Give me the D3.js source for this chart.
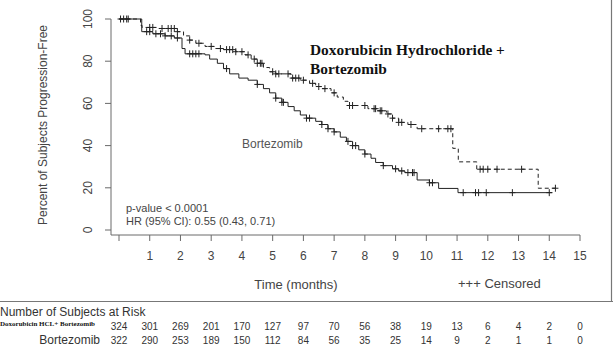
<!DOCTYPE html>
<html>
<head>
<meta charset="utf-8">
<script src="https://cdn.jsdelivr.net/npm/d3@7/dist/d3.min.js"></script>
<style>
	body { margin: 0; background: #fff; }
	svg { display: block; font-family: "Liberation Sans", Arial, sans-serif; }
</style>
</head>
<body>
<svg id="chart" width="613" height="352"></svg>
<script>
// --- data ---
var monthTicks = [0, 1, 2, 3, 4, 5, 6, 7, 8, 9, 10, 11, 12, 13, 14, 15];
var pctTicks = [0, 20, 40, 60, 80, 100];

// Doxorubicin HCL + Bortezomib: [time, % progression-free after step]
var doxSteps = [
	[0, 100], [0.70, 97], [0.75, 96], [1.3, 95.5], [1.9, 94], [2.1, 92], [2.3, 90], [2.5, 88.5],
	[2.8, 87], [3.1, 86], [3.4, 85.5], [3.8, 84.5], [4.1, 83], [4.3, 81], [4.5, 79], [4.7, 77],
	[4.9, 75], [5.1, 74], [5.6, 72], [5.9, 71], [6.2, 69.5], [6.4, 68], [6.6, 67], [6.9, 65],
	[7.1, 63], [7.3, 61], [7.45, 59], [8.1, 57.5], [8.4, 56.5], [8.7, 55], [8.9, 53], [9.1, 51],
	[9.4, 50], [9.7, 48], [10.86, 38.7], [11.04, 32.3], [11.64, 28.8], [13.64, 19.8]
];
var doxEnd = 14.25;
var doxCensored = [0.15, 0.3, 1.0, 1.1, 1.4, 1.6, 1.7, 1.8, 1.9, 2.3, 2.6, 3.0, 3.3, 3.5, 3.6, 3.7,
	3.8, 4.0, 4.2, 4.4, 4.5, 4.6, 4.65, 5.0, 5.1, 5.2, 5.5, 5.65, 5.75, 5.85, 6.0, 6.3, 6.5, 6.7,
	7.0, 7.5, 7.6, 8.0, 8.3, 8.35, 8.5, 8.55, 8.75, 8.9, 9.1, 9.2, 9.5, 9.85, 10.4, 10.7, 10.8,
	11.75, 11.85, 12.0, 12.3, 13.1, 14.2];

// Bortezomib
var bortSteps = [
	[0, 100], [0.74, 94], [1.1, 93], [1.5, 92], [1.8, 91], [2.05, 86], [2.15, 83.5], [2.8, 83],
	[2.95, 81], [3.2, 79], [3.4, 76.5], [3.6, 74], [3.9, 72], [4.2, 71], [4.5, 69], [4.7, 67],
	[4.9, 65], [5.1, 62.5], [5.3, 60.5], [5.5, 58.5], [5.7, 56.5], [5.9, 54.5], [6.1, 53],
	[6.4, 51.5], [6.6, 50], [6.8, 48], [7.0, 46.5], [7.2, 44], [7.4, 42], [7.6, 40], [7.8, 38],
	[8.0, 36], [8.2, 34], [8.35, 32], [8.6, 30.5], [8.9, 29], [9.1, 28], [9.3, 27.2], [9.7, 23.7],
	[10.1, 22.4], [10.4, 19.7], [11.03, 17.7]
];
var bortEnd = 14.1;
var bortCensored = [0.05, 0.25, 0.9, 1.0, 1.2, 1.35, 1.5, 1.7, 1.9, 2.3, 2.4, 2.5, 2.6, 3.5, 4.5,
	5.1, 5.3, 5.35, 6.1, 6.2, 6.6, 6.8, 7.0, 7.45, 7.6, 7.7, 8.0, 8.6, 9.0, 9.2, 9.4, 9.55, 9.6,
	10.1, 10.2, 11.2, 11.6, 11.7, 11.95, 12.8, 14.0];

// subjects at risk at months 0..15
var riskDox = [324, 301, 269, 201, 170, 127, 97, 70, 56, 38, 19, 13, 6, 4, 2, 0];
var riskBort = [322, 290, 253, 189, 150, 112, 84, 56, 35, 25, 14, 9, 2, 1, 1, 0];

(function() {
	var svg = d3.select('#chart');
	var axisColor = '#6a6a6a';
	var textColor = '#444';

	var x = d3.scaleLinear().domain([0, 15]).range([119, 580]);
	var y = d3.scaleLinear().domain([0, 100]).range([230, 19]);

	// outer frame bits: right border and separator above the risk table
	svg.append('line').attr('x1', 611.5).attr('x2', 611.5).attr('y1', 0).attr('y2', 301.5)
		.attr('stroke', '#777').attr('stroke-width', 1.2);
	svg.append('line').attr('x1', 0).attr('x2', 613).attr('y1', 301.5).attr('y2', 301.5)
		.attr('stroke', '#777').attr('stroke-width', 1.2);

	// y axis
	svg.append('line').attr('x1', 111).attr('x2', 111).attr('y1', y(100)).attr('y2', 235)
		.attr('stroke', axisColor);
	pctTicks.forEach(function(v) {
		svg.append('line').attr('x1', 105).attr('x2', 111).attr('y1', y(v)).attr('y2', y(v))
			.attr('stroke', axisColor);
		svg.append('text')
			.attr('transform', 'translate(92,' + y(v) + ') rotate(-90)')
			.attr('text-anchor', 'middle')
			.attr('font-size', 12).attr('fill', textColor)
			.text(v);
	});
	svg.append('text')
		.attr('transform', 'translate(47,125) rotate(-90)')
		.attr('text-anchor', 'middle')
		.attr('font-size', 12).attr('fill', textColor)
		.text('Percent of Subjects Progression-Free');

	// x axis
	svg.append('line').attr('x1', 111).attr('x2', x(15)).attr('y1', 235).attr('y2', 235)
		.attr('stroke', axisColor);
	monthTicks.forEach(function(m) {
		svg.append('line').attr('x1', x(m)).attr('x2', x(m)).attr('y1', 235).attr('y2', 241)
			.attr('stroke', axisColor);
		if (m > 0) {
			svg.append('text').attr('x', x(m)).attr('y', 260)
				.attr('text-anchor', 'middle')
				.attr('font-size', 12).attr('fill', textColor)
				.text(m);
		}
	});
	svg.append('text').attr('x', 296).attr('y', 289)
		.attr('text-anchor', 'middle').attr('font-size', 13).attr('fill', textColor)
		.text('Time (months)');
	svg.append('text').attr('x', 458).attr('y', 288)
		.attr('font-size', 13).attr('fill', textColor)
		.text('+++ Censored');

	// KM curves
	function survAt(steps, t) {
		var s = steps[0][1];
		steps.forEach(function(d) { if (d[0] <= t) s = d[1]; });
		return s;
	}
	var line = d3.line()
		.x(function(d) { return x(d[0]); })
		.y(function(d) { return y(d[1]); })
		.curve(d3.curveStepAfter);

	function drawCurve(steps, end, censored, dash) {
		var pts = steps.concat([[end, steps[steps.length - 1][1]]]);
		svg.append('path')
			.attr('d', line(pts))
			.attr('fill', 'none')
			.attr('stroke', '#222')
			.attr('stroke-width', 1)
			.attr('stroke-dasharray', dash);
		censored.forEach(function(t) {
			var cx = x(t), cy = y(survAt(steps, t));
			svg.append('path')
				.attr('d', 'M' + (cx - 3) + ',' + cy + 'H' + (cx + 3) + 'M' + cx + ',' + (cy - 3.5) + 'V' + (cy + 3.5))
				.attr('stroke', '#222').attr('stroke-width', 1);
		});
	}
	drawCurve(bortSteps, bortEnd, bortCensored, null);
	drawCurve(doxSteps, doxEnd, doxCensored, '4,3');

	// curve labels
	var dl = svg.append('text').attr('font-family', '"Liberation Serif", "Times New Roman", serif')
		.attr('font-weight', 'bold').attr('font-size', 15.4).attr('fill', '#111');
	dl.append('tspan').attr('x', 310).attr('y', 55).text('Doxorubicin Hydrochloride +');
	dl.append('tspan').attr('x', 310).attr('y', 74).text('Bortezomib');

	svg.append('text').attr('x', 242).attr('y', 148)
		.attr('font-size', 12).attr('fill', '#555')
		.text('Bortezomib');

	svg.append('text').attr('x', 126).attr('y', 212)
		.attr('font-size', 11).attr('fill', textColor)
		.text('p-value < 0.0001');
	svg.append('text').attr('x', 126).attr('y', 225)
		.attr('font-size', 11).attr('fill', textColor)
		.text('HR (95% CI): 0.55 (0.43, 0.71)');

	// risk table
	svg.append('text').attr('x', 0).attr('y', 316)
		.attr('font-size', 12).attr('fill', '#333')
		.text('Number of Subjects at Risk');
	svg.append('text').attr('x', 0).attr('y', 326)
		.attr('font-family', '"Liberation Serif", "Times New Roman", serif')
		.attr('font-weight', 'bold').attr('font-size', 7).attr('fill', '#111')
		.text('Doxorubicin HCL+ Bortezomib');
	svg.append('text').attr('x', 100).attr('y', 344)
		.attr('text-anchor', 'end').attr('font-size', 12).attr('fill', '#333')
		.text('Bortezomib');

	monthTicks.forEach(function(m, i) {
		svg.append('text').attr('x', x(m)).attr('y', 330)
			.attr('text-anchor', 'middle').attr('font-size', 10).attr('fill', '#333')
			.text(riskDox[i]);
		svg.append('text').attr('x', x(m)).attr('y', 344)
			.attr('text-anchor', 'middle').attr('font-size', 10).attr('fill', '#333')
			.text(riskBort[i]);
	});
}());
</script>
</body>
</html>
